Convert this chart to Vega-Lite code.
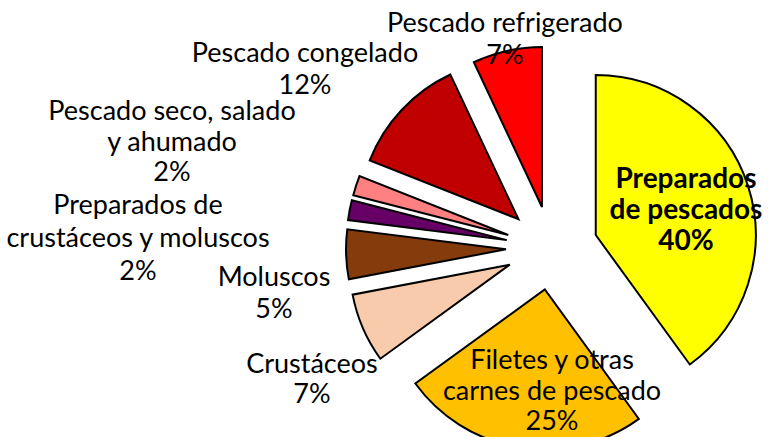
{
  "$schema": "https://vega.github.io/schema/vega-lite/v6.json",
  "autosize": {"type": "none"},
  "width": 432,
  "height": 378,
  "padding": {"left": 336, "top": 59, "right": 0, "bottom": 0},
  "background": "white",
  "config": {
    "view": {"stroke": null},
    "text": {"font": "Lato", "fontSize": 27, "lineHeight": 32, "color": "#000000", "align": "center", "baseline": "middle"}
  },
  "data": {
    "values": [
      {"categoria": "Preparados de pescados", "valor": 40, "orden": 1, "etiqueta": ["Preparados", "de pescados", "40%"]},
      {"categoria": "Filetes y otras carnes de pescado", "valor": 25, "orden": 2, "etiqueta": ["Filetes y otras", "carnes de pescado", "25%"]},
      {"categoria": "Crustáceos", "valor": 7, "orden": 3, "etiqueta": ["Crustáceos", "7%"]},
      {"categoria": "Moluscos", "valor": 5, "orden": 4, "etiqueta": ["Moluscos", "5%"]},
      {"categoria": "Preparados de crustáceos y moluscos", "valor": 2, "orden": 5, "etiqueta": ["Preparados de", "crustáceos y moluscos", "2%"]},
      {"categoria": "Pescado seco, salado y ahumado", "valor": 2, "orden": 6, "etiqueta": ["Pescado seco, salado", "y ahumado", "2%"]},
      {"categoria": "Pescado congelado", "valor": 12, "orden": 7, "etiqueta": ["Pescado congelado", "12%"]},
      {"categoria": "Pescado refrigerado", "valor": 7, "orden": 8, "etiqueta": ["Pescado refrigerado", "7%"]}
    ]
  },
  "layer": [
    {
      "mark": {
        "type": "arc",
        "radius": 160,
        "stroke": "#000000",
        "strokeWidth": 2,
        "strokeJoin": "miter",
        "xOffset": {"expr": "46*sin(PI*(datum.valor_start+datum.valor_end)/100)"},
        "yOffset": {"expr": "-42*cos(PI*(datum.valor_start+datum.valor_end)/100)"}
      },
      "encoding": {
        "theta": {"field": "valor", "type": "quantitative", "stack": true},
        "order": {"field": "orden", "type": "quantitative"},
        "color": {
          "field": "categoria",
          "type": "nominal",
          "legend": null,
          "scale": {
            "domain": ["Preparados de pescados", "Filetes y otras carnes de pescado", "Crustáceos", "Moluscos", "Preparados de crustáceos y moluscos", "Pescado seco, salado y ahumado", "Pescado congelado", "Pescado refrigerado"],
            "range": ["#FFFF00", "#FFC000", "#F8CBAD", "#843C0C", "#660066", "#FF8080", "#C00000", "#FF0000"]
          }
        }
      }
    },
    {
      "transform": [{"filter": "datum.categoria == 'Preparados de pescados'"}],
      "mark": {"type": "text", "fontWeight": "bold", "fontSize": 28, "lineHeight": 31, "dx": 134, "dy": -68},
      "encoding": {"text": {"field": "etiqueta"}}
    },
    {
      "transform": [{"filter": "datum.categoria == 'Filetes y otras carnes de pescado'"}],
      "mark": {"type": "text", "dx": 0, "dy": 113, "lineHeight": 30.5},
      "encoding": {"text": {"field": "etiqueta"}}
    },
    {
      "transform": [{"filter": "datum.categoria == 'Crustáceos'"}],
      "mark": {"type": "text", "dx": -240, "dy": 117, "lineHeight": 30},
      "encoding": {"text": {"field": "etiqueta"}}
    },
    {
      "transform": [{"filter": "datum.categoria == 'Moluscos'"}],
      "mark": {"type": "text", "dx": -278, "dy": 30},
      "encoding": {"text": {"field": "etiqueta"}}
    },
    {
      "transform": [{"filter": "datum.categoria == 'Preparados de crustáceos y moluscos'"}],
      "mark": {"type": "text", "dx": -414, "dy": -42, "lineHeight": 33},
      "encoding": {"text": {"field": "etiqueta"}}
    },
    {
      "transform": [{"filter": "datum.categoria == 'Pescado seco, salado y ahumado'"}],
      "mark": {"type": "text", "dx": -380, "dy": -136, "lineHeight": 30.5},
      "encoding": {"text": {"field": "etiqueta"}}
    },
    {
      "transform": [{"filter": "datum.categoria == 'Pescado congelado'"}],
      "mark": {"type": "text", "dx": -247, "dy": -194},
      "encoding": {"text": {"field": "etiqueta"}}
    },
    {
      "transform": [{"filter": "datum.categoria == 'Pescado refrigerado'"}],
      "mark": {"type": "text", "dx": -47, "dy": -224},
      "encoding": {"text": {"field": "etiqueta"}}
    }
  ]
}
